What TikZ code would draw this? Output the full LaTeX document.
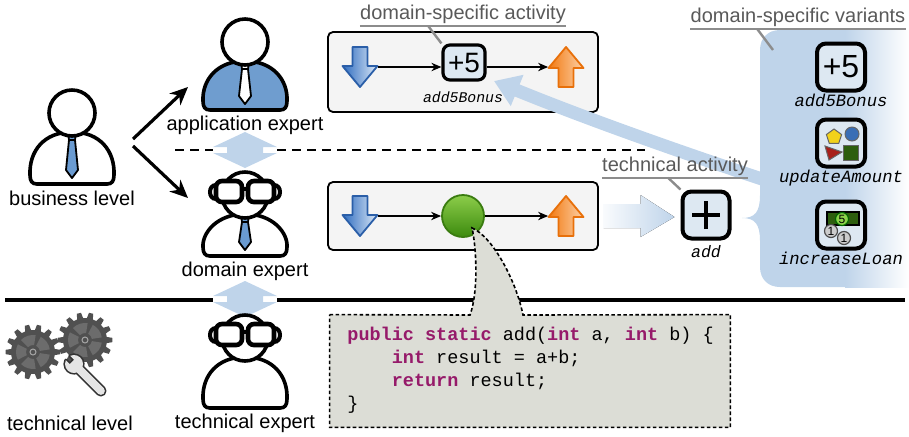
\documentclass[tikz,border=0pt]{standalone}
\usepackage{fontspec}
\setmainfont{Liberation Sans}
\setmonofont{Liberation Mono}
\usetikzlibrary{arrows.meta,calc}

\definecolor{vbl}{HTML}{BFD4EA}
\definecolor{iconblue}{HTML}{DDE8F2}
\definecolor{boxgray}{HTML}{F4F4F4}
\definecolor{codebg}{HTML}{DCDDD6}
\definecolor{codepurple}{HTML}{961A6A}
\definecolor{labelgray}{HTML}{595959}
\definecolor{linegray}{HTML}{8C8C8C}
\definecolor{bodyblue}{HTML}{6F9DCF}
\definecolor{tieblue}{HTML}{6A9BD1}
\definecolor{geargray}{HTML}{505050}
\definecolor{gearhole}{HTML}{6C6C6C}
\definecolor{blueA}{HTML}{2F6DC0}
\definecolor{blueB}{HTML}{DCE8F6}
\definecolor{blueC}{HTML}{2A5EA8}
\definecolor{orangeA}{HTML}{F27A12}
\definecolor{orangeB}{HTML}{FCD0A6}
\definecolor{orangeC}{HTML}{E8700A}
\definecolor{greenA}{HTML}{8CCD4A}
\definecolor{greenB}{HTML}{3C8A0E}
\definecolor{greenC}{HTML}{3A7C10}
\definecolor{shapeyellow}{HTML}{F2D21B}
\definecolor{shapeblue}{HTML}{3A6EB5}
\definecolor{shapered}{HTML}{A8201A}
\definecolor{shapegreen}{HTML}{2D5E0E}
\definecolor{coinlime}{HTML}{8BD34A}

\newcommand\kw[1]{\textcolor{codepurple}{\bfseries #1}}

% person figure: x, y of head centre, body fill, tie fill (empty = no tie), body bottom, glasses (0/1)
\newcommand\drawperson[6]{%
  \begin{scope}[shift={(#1,#2)}]
    \filldraw[personline, fill=#3] (-42,{#5-9}) .. controls (-43,38) and (-28,19) .. (0,19)
      .. controls (28,19) and (43,38) .. (42,{#5-9}) .. controls (42,{#5-3}) and (40,#5) .. (35,#5)
      -- (-35,#5) .. controls (-40,#5) and (-42,{#5-3}) .. (-42,{#5-9}) -- cycle;
    \if\relax\detokenize{#4}\relax\else
      \filldraw[fill=#4, line width=0.9pt, line join=round] (-4,20) -- (4,20) -- (3,27) -- (6,{#5-14})
        -- (0,{#5-6}) -- (-6,{#5-14}) -- (-3,27) -- cycle;
      \draw[line width=0.9pt] (-3,27) -- (3,27);
    \fi
    \filldraw[personline, fill=white] (0,0) circle[radius=23];
    \ifnum#6=1
      \draw[line width=2pt] (-29,-10) .. controls (-37,-10) and (-37,4) .. (-29,4);
      \draw[line width=2pt] (29,-10) .. controls (37,-10) and (37,4) .. (29,4);
      \filldraw[line width=2.3pt, fill=white, rounded corners=3pt] (-29,-14) rectangle (-3,7);
      \filldraw[line width=2.3pt, fill=white, rounded corners=3pt] (3,-14) rectangle (29,7);
      \draw[line width=2.3pt] (-3,-6) -- (3,-6);
    \fi
  \end{scope}}

% toothed wheel centred at x, y
\newcommand\gearat[2]{%
  \begin{scope}[shift={(#1,#2)}]
    \fill[geargray] (-8:22) \foreach \i in {0,...,13}{
        -- ({\i*360/14-8}:22) -- ({\i*360/14-4.5}:27.5) -- ({\i*360/14+4.5}:27.5) -- ({\i*360/14+8}:22)} -- cycle;
    \foreach \a in {0,72,...,288}
      \fill[gearhole] ({\a+9}:7) -- ({\a+9}:17) arc[start angle={\a+9}, end angle={\a+63}, radius=17]
        -- ({\a+63}:7) arc[start angle={\a+63}, end angle={\a+9}, radius=7] -- cycle;
    \filldraw[fill=geargray, draw=gray!70, line width=0.5pt] (0,0) circle[radius=3];
  \end{scope}}

% light blue double-headed arrow between two roles
\newcommand\dblarrow[2]{%
  \fill[vbl, shift={(#1,#2)}] (0,-18) -- (32,-3) -- (18,-3) -- (18,3) -- (32,3) -- (0,18)
    -- (-32,3) -- (-18,3) -- (-18,-3) -- (-32,-3) -- cycle;}

\tikzset{
  personline/.style={line width=1.8pt, draw=black, line join=round},
  lbl/.style={font=\fontsize{10}{12}\selectfont, inner sep=0pt},
  glabel/.style={lbl, text=labelgray},
  uline/.style={draw=linegray, line width=1.2pt},
  actbox/.style={draw, line width=0.9pt, rounded corners=2.5pt, fill=boxgray, inner sep=0pt},
  iconbox/.style={draw, line width=2pt, rounded corners=4.5pt, fill=iconblue,
    minimum width=24pt, minimum height=23.5pt, inner sep=0pt},
  flow/.style={-{Stealth[length=5pt,width=4.2pt]}, line width=0.6pt},
  lvlarrow/.style={-{Stealth[length=9pt,width=8pt]}, line width=1.6pt},
  mono/.style={font=\ttfamily\itshape\fontsize{8.6}{10}\selectfont, inner sep=0pt},
  codetxt/.style={font=\ttfamily\fontsize{9.25}{11}\selectfont, inner sep=0pt, anchor=base west},
  coin/.style={circle, draw=#1, line width=0.6pt, minimum size=6.5pt, inner sep=0pt,
    font=\fontsize{6}{6}\selectfont},
  callout/.style={fill=codebg, draw=black, line width=0.8pt, dash pattern=on 1.8pt off 1.2pt},
  downarr/.pic={\path[left color=blueA, right color=blueB, draw=blueC, line width=0.9pt, line join=round]
    (-7.5,-20) -- (7.5,-20) -- (7.5,-1) -- (17.5,-1) -- (0,20) -- (-17.5,-1) -- (-7.5,-1) -- cycle;},
  uparr/.pic={\path[left color=orangeA, right color=orangeB, draw=orangeC, line width=0.9pt, line join=round]
    (-7.5,20) -- (7.5,20) -- (7.5,1) -- (17.5,1) -- (0,-20) -- (-17.5,1) -- (-7.5,1) -- cycle;},
}

\begin{document}
\begin{tikzpicture}[x=0.5pt, y=-0.5pt]
\useasboundingbox (0,0) rectangle (909,436);

% ---------- level separators ----------
\coordinate (d1) at (175,150); \coordinate (d2) at (213,150);
\coordinate (d3) at (277,150); \coordinate (d4) at (645,150);
\draw[line width=0.9pt, dash pattern=on 4.5pt off 3pt] (d1) -- (d2) (d3) -- (d4);
\coordinate (s1) at (5,300); \coordinate (s2) at (213,300);
\coordinate (s3) at (277,300); \coordinate (s4) at (905,300);
\draw[line width=1.6pt] (s1) -- (s2) (s3) -- (s4);
\dblarrow{245}{150}
\dblarrow{245}{299}

% ---------- roles ----------
\drawperson{72}{113}{white}{tieblue}{71}{0}
\drawperson{245}{42}{bodyblue}{white}{68}{0}
\drawperson{245}{195}{white}{tieblue}{61}{1}
\drawperson{245}{338}{white}{}{70}{1}

\node[lbl] (lbus) at (72,198) {business level};
\node[lbl] (lapp) at (245,125) {application expert};
\node[lbl] (ldom) at (245,271) {domain expert};
\node[lbl] (ltech) at (245,423) {technical expert};
\node[lbl] (llev) at (70,423) {technical level};

\coordinate (b1) at (133,139); \coordinate (a1) at (188,87);
\coordinate (b2) at (133,146); \coordinate (a2) at (188,198);
\draw[lvlarrow] (b1) -- (a1);
\draw[lvlarrow] (b2) -- (a2);

% ---------- tools ----------
\gearat{33}{352}
\gearat{85}{340}
\begin{scope}[shift={(74,364)}, rotate=-45]
  \filldraw[draw=black!80, line width=1.6pt, line join=round, fill=black!80]
    (200:9) arc[start angle=200, end angle=520, radius=9] -- (-3,3.1) -- (-3,-3.1) -- cycle
    (4,-4) -- (38,-4) arc[start angle=-90, end angle=90, radius=4] -- (4,4) -- cycle;
  \fill[black!10]
    (200:9) arc[start angle=200, end angle=520, radius=9] -- (-3,3.1) -- (-3,-3.1) -- cycle
    (4,-4) -- (38,-4) arc[start angle=-90, end angle=90, radius=4] -- (4,4) -- cycle;
\end{scope}

% ---------- variants panel ----------
\fill[vbl] (909,30) -- (780,30) .. controls (768,30) and (760,38) .. (760,50) -- (760,195)
  .. controls (760,212) and (755,218) .. (742,218) .. controls (755,218) and (760,224) .. (760,241)
  -- (760,267) .. controls (760,279) and (768,287) .. (780,287) -- (909,287) -- cycle;
\fill[left color=vbl, right color=white] (845,30) rectangle (909,287);

% ---------- activities ----------
\node[actbox, minimum width=135pt, minimum height=40pt] (topact) at (463,72) {};
\node[actbox, minimum width=135pt, minimum height=34pt] (botact) at (463,216) {};

\node[inner sep=0, minimum width=17.5pt, minimum height=20pt] (in1) at (360,67) {};
\node[inner sep=0, minimum width=17.5pt, minimum height=20pt] (out1) at (566,67) {};
\pic at (in1) {downarr};
\pic at (out1) {uparr};
\node[iconbox, line width=1.6pt, rounded corners=3.5pt, minimum width=21pt, minimum height=17.5pt,
  font=\fontsize{14}{14}\selectfont] (plus5) at (464,62.5) {+5};
\node[mono, font=\ttfamily\itshape\fontsize{7.4}{9}\selectfont] (lplus5) at (463,97) {add5Bonus};
\draw[flow] (in1.east) -- (in1.east -| plus5.west);
\draw[flow] (plus5.east |- in1.east) -- (out1.west);

\node[inner sep=0, minimum width=17.5pt, minimum height=20pt] (in2) at (360,216) {};
\node[inner sep=0, minimum width=17.5pt, minimum height=20pt] (out2) at (566,216) {};
\pic at (in2) {downarr};
\pic at (out2) {uparr};
\node[circle, minimum size=21pt, inner sep=0, top color=greenA, bottom color=greenB,
  draw=greenC, line width=0.9pt] (task) at (463,216) {};
\draw[flow] (in2.east) -- (task.west);
\draw[flow] (task.east) -- (out2.west);

% technical activity
\node[iconbox, minimum width=23.5pt, minimum height=23.5pt] (add) at (706,215) {};
\draw[line width=2.3pt] ([xshift=-7pt]add.center) -- ([xshift=7pt]add.center)
  ([yshift=-7pt]add.center) -- ([yshift=7pt]add.center);
\node[mono, font=\ttfamily\itshape\fontsize{8.3}{10}\selectfont] (ladd) at (706,252) {add};
\begin{scope}[shift={(add.west)}]
  \fill[left color=vbl!10, right color=vbl] (-77,-11) -- (-40,-11) -- (-40,-20) -- (-6,2)
    -- (-40,22) -- (-40,13) -- (-77,13) -- cycle;
\end{scope}

% variant feeds the domain-specific activity
\coordinate (vstart) at (768,181);
\coordinate (vend) at (494,81);
\draw[vbl, line width=6.5pt, -{Triangle[length=12.5pt,width=16pt]}]
  (vstart) .. controls (650,142) and (565,110) .. (vend);

% domain-specific variants
\node[iconbox, font=\fontsize{16}{16}\selectfont] (v1) at (841,67) {+5};
\node[mono] (lv1) at (841,100) {add5Bonus};
\node[iconbox] (v2) at (841,143) {};
\begin{scope}[shift={(v2.center)}]
  \filldraw[fill=shapeyellow, draw=black!60, line width=0.5pt]
    (-7,-6) +(-90:8) -- +(-18:8) -- +(54:8) -- +(126:8) -- +(198:8) -- cycle;
  \filldraw[fill=shapeblue, draw=black!60, line width=0.5pt] (11,-9) circle[radius=7];
  \filldraw[fill=shapered, draw=black!60, line width=0.5pt] (-16,3) -- (1,9) -- (-12,17) -- cycle;
  \filldraw[fill=shapegreen, draw=black!60, line width=0.5pt] (2,2) rectangle (17,17);
\end{scope}
\node[mono] (lv2) at (841,178) {updateAmount};
\node[iconbox] (v3) at (841,225) {};
\begin{scope}[shift={(v3.center)}]
  \filldraw[fill=shapegreen, draw=black, line width=0.6pt] (-14,-13) rectangle (18,0);
  \node[coin=green!40!black, fill=coinlime] (c5) at (1,-6) {5};
  \node[coin=black!70, fill=black!20] (c1a) at (-10,6) {1};
  \node[coin=black!70, fill=black!20] (c1b) at (3,13) {1};
\end{scope}
\node[mono] (lv3) at (841,258) {increaseLoan};

% ---------- annotations ----------
\node[glabel] (dsa) at (463,14) {domain-specific activity};
\draw[uline] ([yshift=-1pt]dsa.south west) -- ([yshift=-1pt]dsa.south east);
\draw[uline] ($(dsa.south)+(-35,2)$) -- (plus5.north west);

\node[glabel] (ta) at (675,166) {technical activity};
\draw[uline] ([yshift=-1pt]ta.south west) -- ([yshift=-1pt]ta.south east);
\draw[uline] ($(ta.south)+(-7,2)$) -- (add.north west);

\node[glabel] (dsv) at (798,17) {domain-specific variants};
\coordinate (vpanel) at (773,50);
\draw[uline] ([yshift=-1pt]dsv.south west) -- ([yshift=-1pt]dsv.south east);
\draw[uline] ($(dsv.south)+(-41,2)$) -- (vpanel);

% ---------- code callout ----------
\node[minimum width=200pt, minimum height=56pt, inner sep=0] (code) at (530,371) {};
\coordinate (tip) at (472,228);
\coordinate (tl) at (470,315);
\coordinate (tr) at (523,315);
\filldraw[callout] (code.north west) -- (tl) .. controls (479,290) and (476,245) .. (tip)
  .. controls (492,236) and (516,280) .. (tr) -- (code.north east) -- (code.south east)
  -- (code.south west) -- cycle;
\node[codetxt] (cl1) at (347,340) {\kw{public} \kw{static} add(\kw{int} a, \kw{int} b) \{};
\node[codetxt] (cl2) at (391.4,363) {\kw{int} result = a+b;};
\node[codetxt] (cl3) at (391.4,386) {\kw{return} result;};
\node[codetxt] (cl4) at (347,409) {\}};

\end{tikzpicture}
\end{document}
